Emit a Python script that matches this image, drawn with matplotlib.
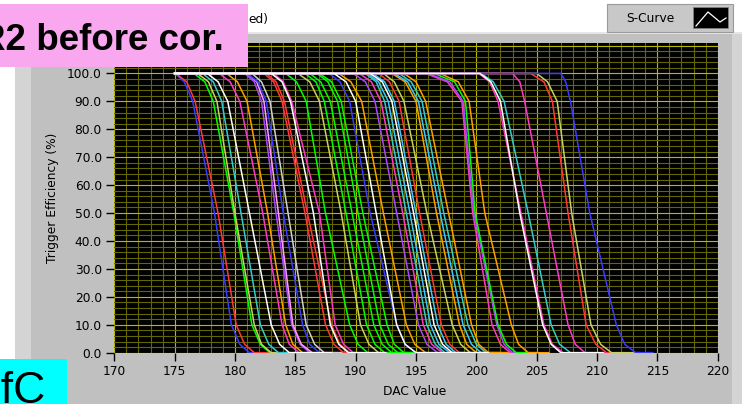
import matplotlib
matplotlib.use("Agg")
import matplotlib.pyplot as plt
from matplotlib.patches import Rectangle
from matplotlib.lines import Line2D
from matplotlib.ticker import MultipleLocator, FormatStrFormatter, FuncFormatter

# --- data ----------------------------------------------------------------
# efficiency levels at which each S-curve crossing was read
eff_levels = [100, 100, 97, 90, 50, 10, 3, 0, 0]
scan_start = 175.0

# DAC value where each curve leaves 100 %, crosses 97/90/50/10/3 %, reaches 0 %
dac_100 = [175.0, 175.1, 176.6, 176.9, 177.3, 177.7, 178.7, 179.3, 180.8, 181.0,
           181.0, 181.4, 182.4, 182.6, 183.2, 183.0, 184.2, 185.2, 185.8, 186.2,
           186.8, 187.0, 187.8, 188.2, 188.6, 189.8, 190.3, 190.8, 191.0, 191.2,
           191.4, 191.9, 192.3, 193.0, 193.2, 193.6, 194.0, 195.8, 196.0, 196.5,
           197.0, 200.3, 200.2, 200.4, 203.0, 204.5, 205.0, 207.0]
dac_97 = [175.8, 176.0, 177.5, 177.8, 178.2, 178.6, 179.6, 180.2, 181.6, 181.8,
          181.9, 182.2, 183.2, 183.4, 184.0, 183.9, 185.1, 186.2, 186.7, 187.1,
          187.7, 188.0, 188.7, 189.2, 189.6, 190.8, 191.3, 191.7, 191.9, 192.2,
          192.4, 192.8, 193.2, 194.1, 194.3, 194.6, 195.0, 197.6, 197.8, 198.2,
          198.5, 201.2, 201.1, 201.4, 203.6, 205.6, 205.9, 207.4]
dac_90 = [176.5, 176.7, 178.2, 178.5, 178.9, 179.4, 180.4, 181.0, 182.2, 182.4,
          182.6, 182.9, 183.9, 184.1, 184.7, 184.6, 185.9, 187.0, 187.4, 187.9,
          188.5, 188.8, 189.5, 190.0, 190.5, 191.6, 192.1, 192.4, 192.7, 193.0,
          193.2, 193.6, 194.0, 195.0, 195.2, 195.5, 195.8, 198.8, 198.9, 199.1,
          199.4, 202.0, 201.8, 202.3, 204.0, 206.3, 206.7, 207.8]
dac_50 = [178.3, 178.6, 179.9, 180.0, 180.5, 181.2, 182.3, 182.7, 183.4, 183.6,
          184.0, 184.4, 185.8, 186.0, 187.0, 186.5, 187.5, 188.8, 189.2, 189.7,
          190.2, 190.6, 191.2, 191.7, 192.3, 193.4, 193.9, 194.2, 194.5, 194.8,
          195.0, 195.3, 195.9, 196.7, 197.0, 197.3, 197.7, 199.7, 199.8, 199.9,
          200.7, 203.6, 203.7, 204.3, 205.8, 207.6, 207.9, 209.4]
dac_10 = [179.7, 180.1, 181.4, 181.6, 182.1, 183.0, 183.9, 184.2, 184.7, 184.8,
          185.6, 185.9, 187.5, 188.0, 188.3, 187.9, 189.5, 190.4, 190.9, 191.5,
          192.0, 192.6, 193.4, 193.4, 194.2, 195.2, 195.6, 195.9, 196.2, 196.5,
          196.8, 197.1, 198.0, 198.6, 198.9, 199.3, 199.6, 201.3, 201.7, 201.8,
          202.9, 205.5, 205.6, 206.2, 207.6, 209.1, 209.5, 211.6]
dac_3 = [180.4, 180.8, 182.1, 182.2, 182.8, 183.7, 184.5, 184.8, 185.4, 185.5,
         186.2, 186.6, 188.2, 188.7, 189.0, 188.6, 190.2, 191.1, 191.6, 192.2,
         192.7, 193.2, 194.1, 194.1, 194.9, 195.9, 196.3, 196.6, 196.9, 197.2,
         197.5, 197.8, 198.7, 199.2, 199.6, 200.0, 200.2, 202.0, 202.3, 202.5,
         203.5, 206.2, 206.3, 206.9, 208.2, 209.9, 210.3, 212.3]
dac_0 = [181.2, 181.6, 182.9, 183.0, 183.6, 184.5, 185.3, 185.6, 186.2, 186.4,
         187.0, 187.4, 189.0, 189.5, 189.8, 189.4, 191.0, 191.9, 192.4, 193.0,
         193.5, 194.0, 195.0, 195.0, 195.8, 196.8, 197.2, 197.4, 197.8, 198.0,
         198.3, 198.6, 199.5, 200.0, 200.4, 200.8, 201.0, 202.8, 203.0, 203.3,
         204.3, 207.0, 207.2, 207.8, 209.0, 210.8, 211.2, 213.2]
scan_end = [183.0, 184.0, 185.5, 186.0, 186.5, 188.0, 188.0, 188.5, 189.0, 190.0,
            190.0, 190.5, 192.0, 192.0, 193.0, 192.5, 194.0, 195.0, 195.5, 196.0,
            197.0, 197.0, 198.0, 198.5, 199.0, 200.0, 200.5, 201.0, 201.0, 201.0,
            201.5, 202.0, 202.0, 202.5, 203.0, 203.0, 203.5, 205.0, 205.0, 205.0,
            206.0, 210.5, 210.5, 210.0, 211.0, 214.6, 213.5, 214.6]

# colour codes of the curves (LabVIEW-like palette)
palette = {
    "W": "#ffffff", "R": "#ff3838", "G": "#00ff00", "B": "#3a3aff",
    "C": "#33cccc", "M": "#ff38c8", "O": "#ff9f00", "Y": "#c8d064",
    "P": "#a848ff", "L": "#3cc8ff", "S": "#d0d0d0", "V": "#ff9cff",
}
curve_colors = "BRGYCWMOPVBSRRMWGYGGGGBWOPMCLWLRYOLCOMPGOWMCMRYB"

W, H = 742, 404


def fig_rect(fig, x0, y0, x1, y1, **kw):
    # rectangle given in pixel coordinates, origin top-left
    r = Rectangle((x0 / W, 1 - y1 / H), (x1 - x0) / W, (y1 - y0) / H,
                  transform=fig.transFigure, **kw)
    fig.patches.append(r)
    return r


fig = plt.figure(figsize=(W / 100, H / 100), dpi=100)
fig.patch.set_facecolor("white")

# graph frame
fig_rect(fig, 15, 32, 742, 404, facecolor="#c0c0c0", edgecolor="none", zorder=-2)
fig_rect(fig, 15, 32, 31, 404, facecolor="#d4d4d4", edgecolor="none", zorder=-1)
fig_rect(fig, 732, 32, 742, 404, facecolor="#d4d4d4", edgecolor="none", zorder=-1)
fig_rect(fig, 15, 32, 742, 33.5, facecolor="#e6e6e6", edgecolor="none", zorder=-1)

# plot area
x0p, x1p, y0p, y1p = 114.3, 717.7, 43.0, 352.7
ax = fig.add_axes([x0p / W, 1 - y1p / H, (x1p - x0p) / W, (y1p - y0p) / H])
ax.set_facecolor("black")
ax.set_xlim(170, 220)
ax.set_ylim(0, 110.9)

ax.xaxis.set_major_locator(MultipleLocator(5))
ax.xaxis.set_minor_locator(MultipleLocator(1))
ax.yaxis.set_major_locator(MultipleLocator(10))
ax.yaxis.set_minor_locator(MultipleLocator(2))
ax.xaxis.set_major_formatter(FormatStrFormatter("%d"))
ax.yaxis.set_major_formatter(FuncFormatter(lambda v, p: "%.1f" % v if v <= 100.5 else ""))

ax.grid(which="minor", color="#666600", linewidth=0.8)
ax.grid(which="major", color="#b8b800", linewidth=0.8)
ax.set_axisbelow(True)

ax.tick_params(which="major", direction="out", length=6, width=1, color="black",
               labelsize=8.8, pad=3)
ax.tick_params(which="minor", length=0)
for lab in ax.get_xticklabels() + ax.get_yticklabels():
    lab.set_fontfamily("DejaVu Sans")
for s in ax.spines.values():
    s.set_visible(False)

ax.set_xlabel("DAC Value", fontsize=8.8, family="DejaVu Sans", va="center")
ax.xaxis.set_label_coords(0.497, -0.124)
ax.set_ylabel("Trigger Efficiency (%)", fontsize=8.8, family="DejaVu Sans", va="center")
ax.yaxis.set_label_coords(-0.1016, 0.5)

# S-curves
for i, code in enumerate(curve_colors):
    xs = [scan_start, dac_100[i], dac_97[i], dac_90[i], dac_50[i],
          dac_10[i], dac_3[i], dac_0[i], scan_end[i]]
    ax.plot(xs, eff_levels, color=palette[code], linewidth=1.1,
            solid_joinstyle="round", zorder=3 if code == "W" else 2)

# visible tail of the graph caption
fig.text(268 / W, 1 - 20 / H, "ed)", ha="right", va="center",
         fontsize=8.8, family="DejaVu Sans", zorder=3)

# plot legend
fig_rect(fig, 607, 4, 733, 32, facecolor="#c8c8c8", edgecolor="#9a9a9a",
         linewidth=0.8, zorder=3)
fig.text(626 / W, 1 - 18 / H, "S-Curve", ha="left", va="center",
         fontsize=8.8, family="DejaVu Sans", zorder=4)
fig_rect(fig, 693, 7, 728, 28, facecolor="black", edgecolor="#808080",
         linewidth=0.6, zorder=4)
sw_x = [696, 708, 720, 726]
sw_y = [26, 12, 22, 18]
fig.lines.append(Line2D([v / W for v in sw_x], [1 - v / H for v in sw_y],
                        transform=fig.transFigure, color="white", linewidth=0.9,
                        zorder=5))

# pasted slide labels
fig_rect(fig, 0, 4, 247.5, 67, facecolor="#f9a8f0", edgecolor="none", zorder=6)
fig.text(224 / W, 1 - 50 / H, "R2 before cor.", ha="right", va="baseline",
         fontsize=26.5, fontweight="bold", family="Liberation Sans", zorder=7)
fig_rect(fig, 0, 359, 67, 404, facecolor="#00ffff", edgecolor="none", zorder=6)
fig.text(46 / W, 1 - 403 / H, "2fC", ha="right", va="baseline",
         fontsize=32, family="Liberation Sans", zorder=7)

fig.savefig("out.png", dpi=100)
